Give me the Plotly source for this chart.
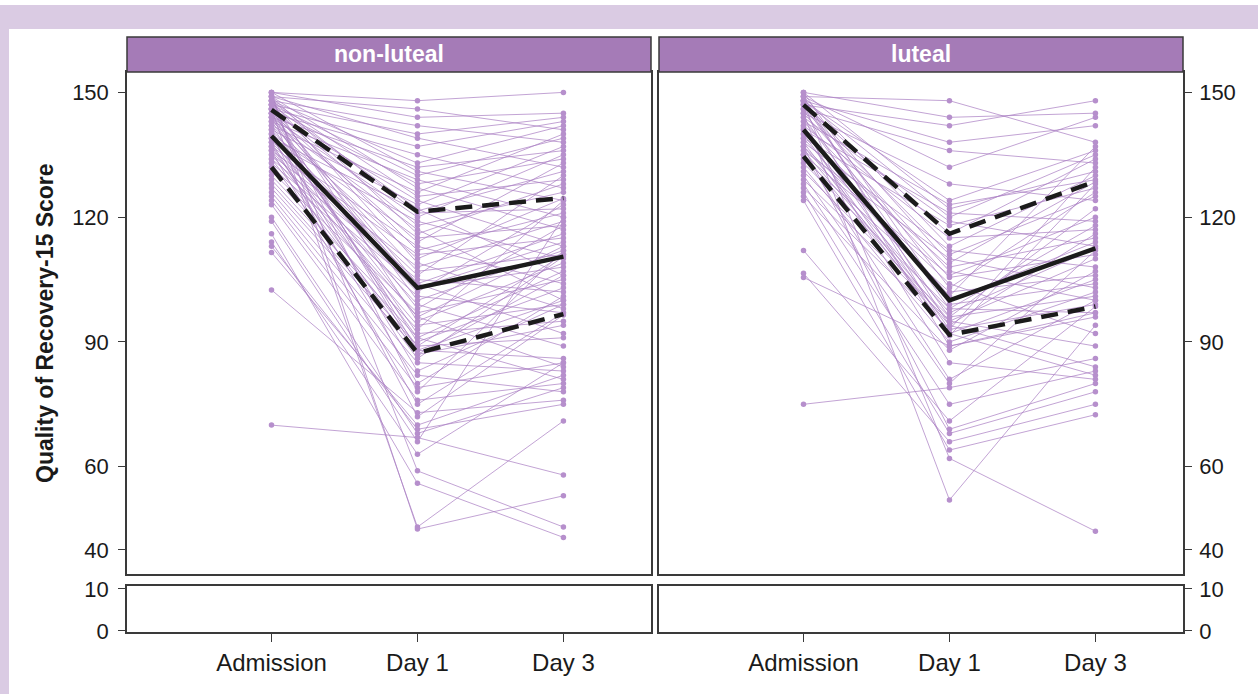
import plotly.graph_objects as go

# ---------------- data ----------------
timepoints = ["Admission", "Day 1", "Day 3"]
panels = ["non-luteal", "luteal"]

nl_admission = [150,149,150,148,147,149,146,145,148,144, 150,147,143,146,149,142,148,145,141,147,
                139,148,144,138,146,143,149,140,145,137, 147,136,142,148,135,144,139,134,146,141,
                133,145,138,132,147,137,143,131,140,136, 148,135,130,142,129,139,144,128,134,146,
                127,137,145,133,126,141,125,138,124,147, 123,136,102.5,140,111.5,113,120,70,119,114,
                149,116,146,150]
nl_day1 = [148,146,144,142,140,139,137,135,133,132, 131,130,129,128,127,126,125,124,123,122,
           121.5,121,120,119,118,117,116,115,114,113, 112,111,110,109,108,107,106,105,104,104,
           103,103,102,101,100,99,98,97,96,96, 95,94,93,92,91,91,90,89,89,88,
           88,87,87,86,85,83,82,80,79,78, 76,75,73,72,70,69,68,67,66,63,
           59,56,45.5,45]
nl_day3 = [150,141,145,138,144,132,143,127,142,136, 124,139,120,134,117,140,129,113,137,106,
           131,122,135,110,126,100,128,118,133,104, 121,115,124.5,98,119,111,130,102,116,92,
           114,108,123,97,112,89,118,105,113,84, 109,99,124,95,107,81,103,111,91,100,
           86,106,94,110.5,83,99,78,101,85,112, 80,97,76,96.5,82,75,79,58,120,85,
           45.5,43,71,53]

lut_admission = [149,150,147,148,146,149,145,148,143,150, 141,148,144,139,147,142,149,138,146,136,
                 148,140,145,135,143,137,148,134,141,139, 150,133,147,137,131,144,136,129,148,135,
                 142,127,140,138,149,132,146,125,141.5,135, 130,75,128,112,137,126,106.5,124,147.5,145,
                 105.5]
lut_day1 = [148,144,142,138,136,132,128,124,123,122, 121,120,119,118,116,115,113,112,111,110,
            109,108,107,106,105.5,104,103,102,101,100, 99,98,98,97,96,96,95,95,94,94,
            93,93,92,92,91.5,90,89,88,85,81, 80,79,75,71,69,68,66,64,62,52,
            89]
lut_day3 = [138,145,148,142,133,144,124,136,129,131, 119,135,113,127,134,117,130,108,125,103,
            128.5,115,100,120,111,92,126,106,137,114, 104,118,97,112.5,101,122,89,110,116,84,
            132,99,105,82,128,102,96,107,81,100, 112,86,83,98.5,80,78,75,72.5,44.5,94,
            97]

nl_median = [139.5, 103, 110.5]
nl_q1 = [132, 87.3, 96.7]
nl_q3 = [145.8, 121.3, 124.6]
lut_median = [141, 100, 112.5]
lut_q1 = [134.6, 91.7, 98.5]
lut_q3 = [147, 116, 128.6]

main_ticks = [40, 60, 90, 120, 150]
low_ticks = [0, 10]

# ---------------- styling ----------------
W, H = 1260, 694
FONT = "Liberation Sans, Arial, sans-serif"
LINE_C = "rgba(170,128,196,0.72)"
DOT_C = "#b68fcc"
STRIP_C = "#a57bb7"
BG_C = "#dacbe3"
FRAME_C = "#3a3a3a"
BLACK = "#1b1b1b"
TICK_SIZE = 22
XTICK_SIZE = 24
TITLE_SIZE = 23

def px(x):
    return x / W

def py(y):
    return 1 - y / H

L_dom = [px(127), px(651)]
R_dom = [px(659), px(1183)]
main_dom = [py(574), py(72)]
low_dom = [py(632), py(586)]
xrange_ = [-0.99, 2.6]
main_range = [34.2, 154.9]
low_range = [-0.25, 10.7]

pos = list(range(len(timepoints)))

fig = go.Figure()

def spaghetti(adm, d1, d3, xa, ya):
    xs, ys = [], []
    for a, b, c in zip(adm, d1, d3):
        xs += pos + [None]
        ys += [a, b, c, None]
    fig.add_trace(go.Scatter(x=xs, y=ys, mode="lines+markers", xaxis=xa, yaxis=ya,
                             line=dict(color=LINE_C, width=1),
                             marker=dict(color=DOT_C, size=5.5),
                             hoverinfo="skip", showlegend=False))

def summary(vals, dash, xa, ya):
    fig.add_trace(go.Scatter(x=pos, y=vals, mode="lines", xaxis=xa, yaxis=ya,
                             line=dict(color=BLACK, width=4.5, dash=dash),
                             hoverinfo="skip", showlegend=False))

spaghetti(nl_admission, nl_day1, nl_day3, "x", "y")
spaghetti(lut_admission, lut_day1, lut_day3, "x2", "y2")
for vals, dash in [(nl_median, "solid"), (nl_q1, "17px,10px"), (nl_q3, "17px,10px")]:
    summary(vals, dash, "x", "y")
for vals, dash in [(lut_median, "solid"), (lut_q1, "17px,10px"), (lut_q3, "17px,10px")]:
    summary(vals, dash, "x2", "y2")

# empty lower (broken-axis) panels: invisible placeholder traces so the subplots are drawn
for xa, ya in [("x3", "y3"), ("x4", "y4")]:
    fig.add_trace(go.Scatter(x=[None], y=[None], mode="markers", xaxis=xa, yaxis=ya,
                             hoverinfo="skip", showlegend=False))

axis_common = dict(showline=True, mirror=True, linecolor=FRAME_C, linewidth=1.5,
                   showgrid=False, zeroline=False, fixedrange=True, automargin=False)
ytick_font = dict(tickfont=dict(family=FONT, size=TICK_SIZE, color="#1a1a1a"))
xtick_font = dict(tickfont=dict(family=FONT, size=XTICK_SIZE, color="#1a1a1a"))

fig.update_layout(
    width=W, height=H, margin=dict(l=0, r=0, t=0, b=0, pad=0, autoexpand=False), autosize=False,
    paper_bgcolor="white", plot_bgcolor="white",
    font=dict(family=FONT, color="#1a1a1a"),
    xaxis=dict(domain=L_dom, range=xrange_, anchor="y", showticklabels=False, ticks="", **axis_common),
    xaxis2=dict(domain=R_dom, range=xrange_, anchor="y2", showticklabels=False, ticks="", **axis_common),
    xaxis3=dict(domain=L_dom, range=xrange_, anchor="y3", tickvals=pos, ticktext=timepoints,
                ticks="outside", ticklen=8, tickcolor=FRAME_C, ticklabelstandoff=0,
                **axis_common, **xtick_font),
    xaxis4=dict(domain=R_dom, range=xrange_, anchor="y4", tickvals=pos, ticktext=timepoints,
                ticks="outside", ticklen=8, tickcolor=FRAME_C, ticklabelstandoff=0,
                **axis_common, **xtick_font),
    yaxis=dict(domain=main_dom, range=main_range, anchor="x", tickvals=main_ticks,
               ticks="outside", ticklen=7, tickcolor=FRAME_C, ticklabelstandoff=5,
               **axis_common, **ytick_font),
    yaxis2=dict(domain=main_dom, range=main_range, anchor="x2", side="right", tickvals=main_ticks,
                ticks="outside", ticklen=7, tickcolor=FRAME_C, ticklabelstandoff=3,
                **axis_common, **ytick_font),
    yaxis3=dict(domain=low_dom, range=low_range, anchor="x3", tickvals=low_ticks,
                ticks="outside", ticklen=7, tickcolor=FRAME_C, ticklabelstandoff=5,
                **axis_common, **ytick_font),
    yaxis4=dict(domain=low_dom, range=low_range, anchor="x4", side="right", tickvals=low_ticks,
                ticks="outside", ticklen=7, tickcolor=FRAME_C, ticklabelstandoff=3,
                **axis_common, **ytick_font),
)

shapes = [
    # lavender frame (top band and left band)
    dict(type="rect", xref="paper", yref="paper", x0=0, x1=px(1258), y0=py(29), y1=py(5),
         fillcolor=BG_C, line=dict(width=0), layer="below"),
    dict(type="rect", xref="paper", yref="paper", x0=0, x1=px(9), y0=0, y1=py(5),
         fillcolor=BG_C, line=dict(width=0), layer="below"),
]
annotations = []
for dom, name in [(L_dom, panels[0]), (R_dom, panels[1])]:
    shapes.append(dict(type="rect", xref="paper", yref="paper", x0=dom[0], x1=dom[1],
                       y0=py(72), y1=py(37), fillcolor=STRIP_C,
                       line=dict(color=FRAME_C, width=1.5)))
    annotations.append(dict(text="<b>%s</b>" % name, xref="paper", yref="paper",
                            x=(dom[0] + dom[1]) / 2, y=py(54.5), showarrow=False,
                            xanchor="center", yanchor="middle",
                            font=dict(family=FONT, size=TITLE_SIZE, color="white")))

annotations.append(dict(text="<b>Quality of Recovery-15 Score</b>", xref="paper", yref="paper",
                        x=px(45), y=(main_dom[0] + main_dom[1]) / 2, textangle=-90,
                        showarrow=False, xanchor="center", yanchor="middle",
                        font=dict(family=FONT, size=TITLE_SIZE, color="#1a1a1a")))

fig.update_layout(shapes=shapes, annotations=annotations)

post = ("var gd=document.getElementById('{plot_id}');"
        "gd.style.position='absolute';gd.style.left='0px';gd.style.top='0px';"
        "document.body.style.margin='0';document.body.style.overflow='hidden';")

fig.write_html("out.html", config={"displayModeBar": False, "responsive": False},
               post_script=post)
